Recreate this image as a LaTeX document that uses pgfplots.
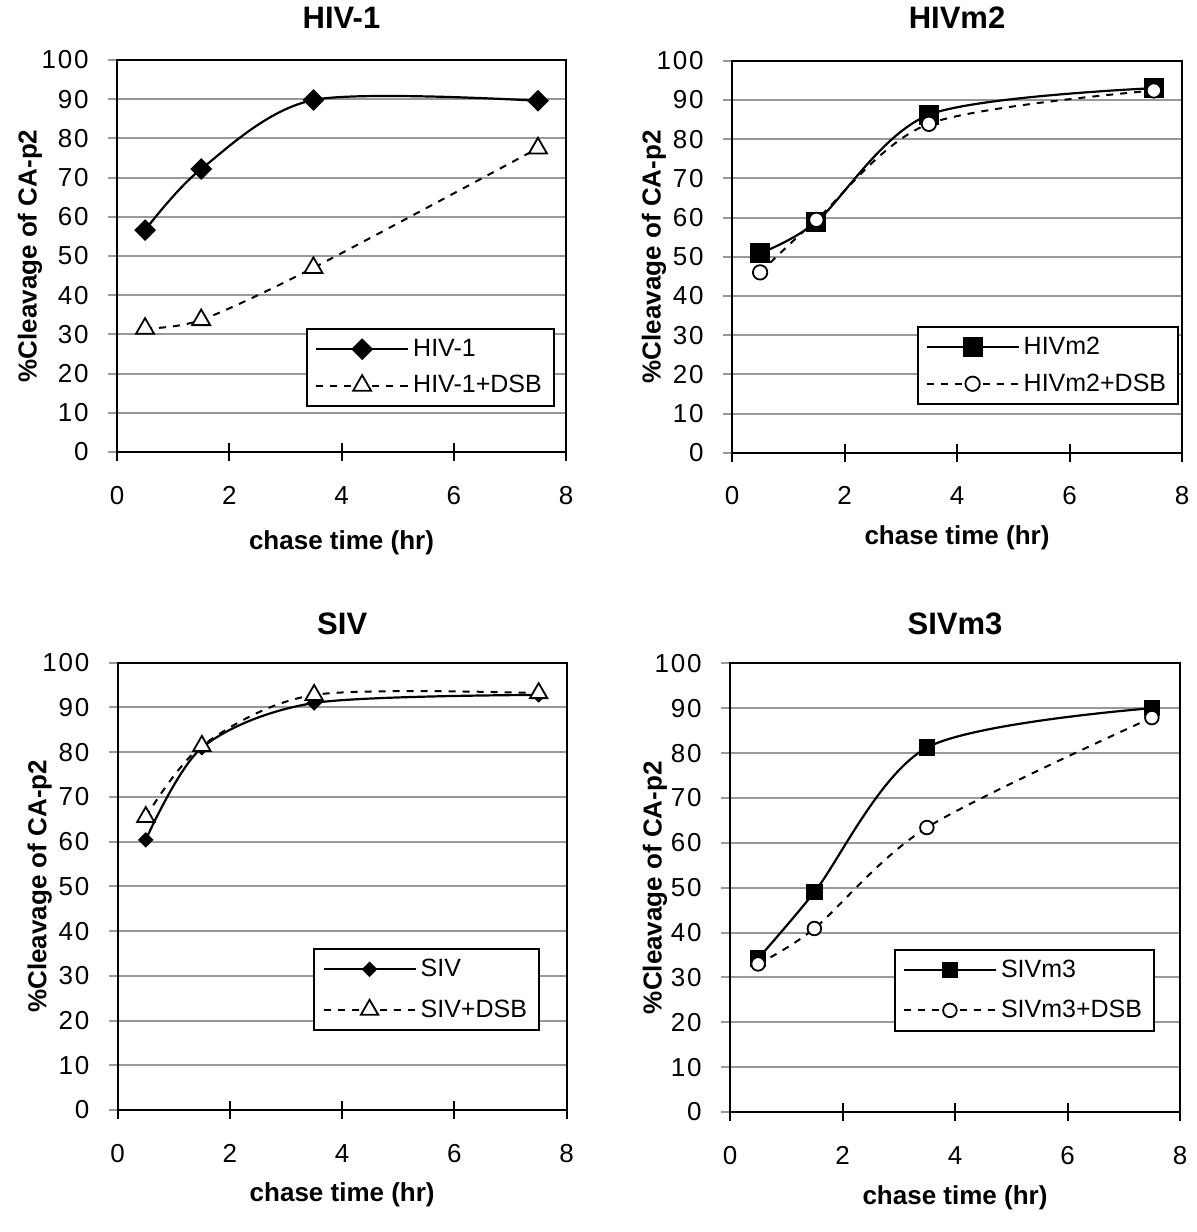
\documentclass[border=0pt]{standalone}
\usepackage{pgfplots}
\pgfplotsset{compat=1.18}
\usepackage{fontspec}
\setmainfont{Liberation Sans}
\newfontfamily\tickfont[LetterSpace=7]{Liberation Sans}

\pgfplotsset{
  panel/.style={
    scale only axis, anchor=south west,
    xmin=0, xmax=8, ymin=0, ymax=100,
    xtick={0,2,4,6,8}, ytick={0,10,...,100},
    xtick pos=bottom, ytick pos=left,
    axis line style={black, line width=1pt},
    ymajorgrids, grid style={color=black!40, line width=1pt},
    xtick align=center, ytick align=outside, major tick length=9pt,
    x tick style={black, line width=1pt},
    y tick style={black!40, line width=1pt, /pgfplots/major tick length=4.5pt},
    /pgf/number format/assume math mode=true,
    ticklabel style={font=\tickfont\fontsize{13}{15}\selectfont},
    xticklabel style={anchor=base, inner sep=0pt, yshift=-21.5pt},
    yticklabel style={anchor=east, inner sep=0pt, xshift=-5pt},
    title style={font=\bfseries\fontsize{15.5}{18}\selectfont, anchor=center},
    xlabel style={font=\bfseries\fontsize{13}{16}\selectfont, anchor=center},
    ylabel style={font=\bfseries\fontsize{13}{16}\selectfont, anchor=center},
    xlabel={chase time (hr)}, ylabel={\%Cleavage of CA-p2},
    legend style={draw=black, line width=1pt, fill=white,
      font=\fontsize{12.5}{14}\selectfont, anchor=north west,
      inner xsep=4pt, inner ysep=3pt, row sep=4pt,
      cells={anchor=west}},
    legend image code/.code={\draw[mark repeat=2,mark phase=2,#1] plot coordinates {(0pt,0pt) (23pt,0pt) (46pt,0pt)};},
    clip=false,
  },
  solidser/.style={black, line width=1.1pt, smooth, tension=0.5},
  dashser/.style={black, line width=1pt, smooth, tension=0.5, dash pattern=on 3.5pt off 3.5pt},
}

\begin{document}
\begin{tikzpicture}
\useasboundingbox (0,0) rectangle (598pt,-616pt);

% Panel 1: HIV-1
\begin{axis}[panel, at={(58.5pt,-226pt)}, width=224.5pt, height=196pt,
  title={HIV-1}, title style={at={([yshift=15pt]axis description cs:0.5,1)}},
  xlabel style={at={([yshift=-45.5pt]axis description cs:0.5,0)}},
  ylabel style={at={([xshift=-43.5pt]axis description cs:0,0.5)}},
  legend style={at={(axis description cs:0.421,0.316)}}]
\addplot[solidser, mark=square*, mark size=3.3pt, mark options={rotate=45, solid, fill=black}]
  coordinates {(0.5,56.6) (1.5,72.2) (3.5,89.8) (7.5,89.6)};
\addlegendentry{HIV-1}
\addplot[dashser, mark=triangle*, mark size=5.2pt, mark options={solid, fill=white, line width=0.9pt}]
  coordinates {(0.5,31.5) (1.5,33.7) (3.5,47.0) (7.5,77.5)};
\addlegendentry{HIV-1+DSB}
\end{axis}

% Panel 2: HIVm2
\begin{axis}[panel, at={(366pt,-226.35pt)}, width=225pt, height=196pt,
  title={HIVm2}, title style={at={([yshift=15.3pt]axis description cs:0.5,1)}},
  xlabel style={at={([yshift=-42.5pt]axis description cs:0.5,0)}},
  ylabel style={at={([xshift=-39pt]axis description cs:0,0.5)}},
  legend style={at={(axis description cs:0.41,0.323)}}]
\addplot[solidser, mark=square*, mark size=4.5pt, mark options={solid, fill=black}]
  coordinates {(0.5,50.9) (1.5,58.9) (3.5,86.2) (7.5,93.0)};
\addlegendentry{HIVm2}
\addplot[dashser, mark=*, mark size=3.6pt, mark options={solid, fill=white, line width=0.9pt}]
  coordinates {(0.5,46.0) (1.5,59.4) (3.5,83.9) (7.5,92.4)};
\addlegendentry{HIVm2+DSB}
\end{axis}

% Panel 3: SIV
\begin{axis}[panel, at={(58.85pt,-555pt)}, width=224.5pt, height=223.65pt,
  title={SIV}, title style={at={([yshift=13.5pt]axis description cs:0.5,1)}},
  xlabel style={at={([yshift=-42.5pt]axis description cs:0.5,0)}},
  ylabel style={at={([xshift=-39pt]axis description cs:0,0.5)}},
  legend style={at={(axis description cs:0.436,0.362)}, row sep=6pt}]
\addplot[solidser, mark=square*, mark size=2.2pt, mark options={rotate=45, solid, fill=black}]
  coordinates {(0.5,60.4) (1.5,81.0) (3.5,91.0) (7.5,92.8)};
\addlegendentry{SIV}
\addplot[dashser, mark=triangle*, mark size=5pt, mark options={solid, fill=white, line width=0.9pt}]
  coordinates {(0.5,65.5) (1.5,81.4) (3.5,92.8) (7.5,93.2)};
\addlegendentry{SIV+DSB}
\end{axis}

% Panel 4: SIVm3
\begin{axis}[panel, at={(365pt,-556pt)}, width=225pt, height=224.35pt,
  title={SIVm3}, title style={at={([yshift=13.5pt]axis description cs:0.5,1)}},
  xlabel style={at={([yshift=-43pt]axis description cs:0.5,0)}},
  ylabel style={at={([xshift=-37.5pt]axis description cs:0,0.5)}},
  legend style={at={(axis description cs:0.364,0.364)}, row sep=6pt}]
\addplot[solidser, mark=square*, mark size=3.6pt, mark options={solid, fill=black}]
  coordinates {(0.5,34.2) (1.5,49.0) (3.5,81.2) (7.5,90.0)};
\addlegendentry{SIVm3}
\addplot[dashser, mark=*, mark size=3.4pt, mark options={solid, fill=white, line width=0.9pt}]
  coordinates {(0.5,33.0) (1.5,40.9) (3.5,63.4) (7.5,87.9)};
\addlegendentry{SIVm3+DSB}
\end{axis}
\end{tikzpicture}
\end{document}
